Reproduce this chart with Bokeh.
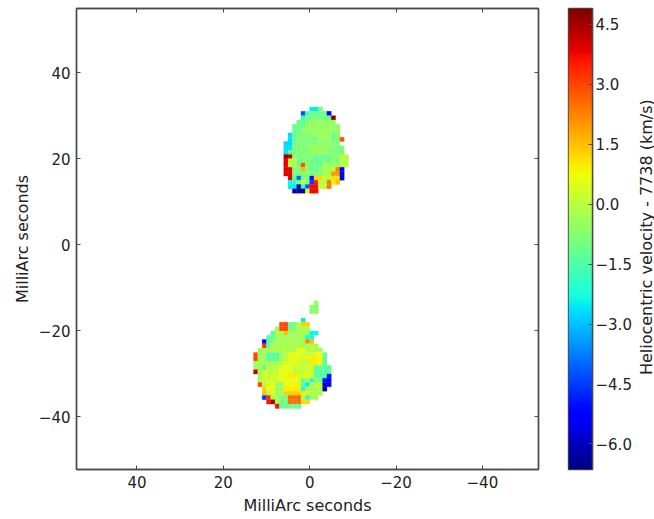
import numpy as np
from bokeh.core.properties import value
from bokeh.embed import file_html
from bokeh.resources import INLINE
from bokeh.plotting import figure
from bokeh.layouts import row
from bokeh.models import (ColumnDataSource, LinearColorMapper, FixedTicker, LinearAxis, Range1d)
from bokeh.transform import transform

# ---- data: velocity offsets (km/s), per mas cell ----
north_top_y = [32, 31, 30, 29, 28, 27, 26, 25, 24, 23, 22, 21, 20, 19, 18, 17, 16, 15, 14, 13]
north_left_x = [0, 2, 2, 3, 4, 4, 5, 5, 6, 6, 6, 6, 6, 6, 6, 6, 5, 5, 5, 4]
north_values = [
    [-2.5, -2.5, -1.0],
    [-4.3, -1.7, -1.1, -1.1, -1.1, -1.1, -5.3],
    [-2.0, -1.0, -1.0, -1.0, -1.0, -1.0, -1.0, 4.9],
    [-1.1, -1.1, -0.9, -0.5, -0.5, -0.5, -0.5, -0.5, -0.5],
    [-1.1, -1.1, -1.1, -0.5, -0.5, -0.5, -0.5, -0.5, -0.5, -0.5, -0.5],
    [-1.1, -1.1, -0.5, -0.5, -0.5, -0.5, -0.5, -0.5, -0.5, -0.5, -0.5],
    [-2.7, -1.2, -0.8, -0.8, -0.8, -0.5, -0.5, -0.5, -0.4, -0.4, -1.1, -0.8],
    [-2.7, -1.1, -0.8, -0.8, -1.0, -1.0, -1.0, -0.5, -0.5, -0.4, -1.1, -0.9, 2.8],
    [-2.8, -2.8, -1.1, -0.8, -0.8, -0.8, -0.7, -0.7, -0.7, -0.7, -0.7, -0.7, -0.7],
    [-2.6, -2.6, -1.0, -0.8, -0.8, -0.8, -0.5, -0.5, -0.5, -0.5, -0.5, -0.9, -0.9, -0.9],
    [-2.6, -1.2, -0.8, -0.8, -0.8, -0.8, -0.5, -0.5, -0.5, -0.5, -0.5, -0.9, -0.9, -0.9],
    [4.6, 4.3, -0.7, -1.0, -0.8, -0.8, -0.8, -1.1, -1.1, -1.1, -1.1, -0.8, -0.8, -0.1, -0.1],
    [3.9, -0.1, -0.1, -1.0, -0.8, -0.8, -1.1, -1.1, -1.1, -1.1, -1.1, -0.8, -0.8, -0.1, -0.1],
    [3.9, -0.1, -0.1, -1.0, 2.8, -0.8, -1.1, -1.1, -1.1, -0.3, -0.3, -0.4, -0.5, -0.1, -0.1],
    [3.9, 3.9, -0.9, -0.9, 1.6, -0.7, -1.1, -1.1, -0.8, -0.3, -0.3, -0.1, 2.2, -5.5],
    [3.9, 3.9, -0.9, -0.9, -0.9, -0.6, -1.0, -0.8, -0.8, -0.3, -0.3, 2.0, 2.0, -5.5],
    [3.9, -1.1, -4.0, -1.0, -0.7, -5.0, 1.2, 1.2, -0.1, -0.1, 1.1, 1.1, -5.5],
    [-2.4, -2.2, -1.0, 0.2, -0.8, -4.5, 3.5, 0.0, 0.0, 2.4, 0.9, 1.5],
    [-2.5, -2.5, -6.2, -2.0, -4.2, 3.7, 3.7, 0.1, 0.1, 2.4],
    [-6.2, -6.2, -6.2, 0.4, 3.7, 3.7],
]

south_top_y = [-13, -14, -15, -17, -18, -19, -20, -21, -22, -23, -24, -25, -26, -27, -28, -29,
               -30, -31, -32, -33, -34, -35, -36, -37]
south_left_x = [-1, 0, 0, 2, 7, 8, 9, 10, 11, 11, 12, 13, 13, 13, 13, 13,
                12, 12, 12, 11, 11, 11, 10, 8]
south_values = [
    [-0.4],
    [-0.6, -0.6],
    [-0.6, -0.6],
    [-2.5],
    [3.0, 3.0, -1.1, -1.1, -0.1, 1.3, 1.3],
    [-0.2, 3.0, 3.0, -1.0, -1.0, -0.2, -0.2, -0.2],
    [-1.3, -0.3, -0.3, 1.5, -0.3, -0.3, -0.3, -0.3, -0.3, -2.4, -2.4],
    [-1.3, -1.3, -0.3, -0.3, -0.3, -0.3, -0.3, -0.3, -0.3, -2.3, -2.3],
    [-5.2, -1.3, -0.7, -0.3, -0.3, -0.3, -0.3, -0.3, -0.3, -0.3, 2.2, 1.5],
    [3.2, -1.3, -0.2, -0.2, -0.2, -0.2, -0.2, -0.2, -0.2, -0.3, -0.2, -0.2, -0.2],
    [-0.4, -0.4, -0.2, -0.2, -0.2, -0.2, -0.2, -0.2, -0.2, 0.7, 0.7, -0.1, -0.1, -0.1, -0.2],
    [3.0, -0.4, -0.4, -1.4, -1.4, -1.4, -0.4, -0.1, 0.6, 0.6, 0.6, 0.2, 0.2, 0.2, 0.6, 0.8, -1.3],
    [3.0, -0.4, -0.4, -1.4, -1.4, -1.4, -0.4, 0.0, 0.5, 0.5, 0.5, 0.2, 0.9, 0.9, 0.9, 0.8, -1.3],
    [-0.4, -0.3, -0.3, -0.2, -0.2, -0.2, -0.2, 0.5, 0.5, 0.5, 0.5, 0.0, 0.0, 0.9, 0.9, 0.6, -1.2],
    [-0.4, -0.4, -1.2, -0.2, -0.2, -0.2, 0.6, 0.6, 0.6, 0.1, 0.1, 0.1, 0.3, 0.3, -1.4, -1.3, -1.3, -1.3],
    [4.2, -0.2, 0.2, 0.2, 0.2, 0.2, 0.7, 0.7, 0.7, 0.1, 0.1, 0.1, 0.3, 0.4, -1.3, -1.3, -1.3, -1.3],
    [-0.3, 0.2, 0.2, 0.2, 0.2, 0.6, 0.6, 1.0, 1.0, 0.4, 0.4, 0.5, 0.5, -1.4, -1.4, -1.4, -5.0],
    [-0.2, 0.2, 0.2, 0.2, 0.2, 0.6, 0.6, 0.6, 0.6, 0.6, -1.3, -0.3, -2.3, -0.5, -1.3, -5.0, -5.3],
    [3.0, -0.1, 0.6, 0.6, -0.5, -0.5, 0.8, 0.8, 0.8, 0.8, -1.4, -2.5, -0.1, -0.1, -0.1, -6.2, -5.3],
    [1.3, 0.7, 0.7, -0.5, -0.5, 0.9, 0.9, 0.9, 0.9, -2.3, -0.3, -0.3, -0.2, -0.1, -6.2],
    [1.5, -0.1, 0.6, -0.4, -0.4, 1.3, 1.3, 1.3, 1.3, 1.0, 1.0, -0.2, -0.2, -0.2],
    [-4.5, 3.3, -0.2, -0.2, -1.0, -1.0, 2.6, 2.6, 2.6, -0.2, -2.2, -0.4, -0.3],
    [3.6, 4.5, -0.2, -1.0, -1.0, 2.5, 2.5, 2.5, 1.2, 1.2],
    [3.6, -1.1, -1.1, -1.1, -1.1, -1.2],
]

x_ticks = [40, 20, 0, -20, -40]
x_labels = ["40", "20", "0", "\u221220", "\u221240"]
y_ticks = [40, 20, 0, -20, -40]
y_labels = ["40", "20", "0", "\u221220", "\u221240"]
cb_ticks = [4.5, 3.0, 1.5, 0.0, -1.5, -3.0, -4.5, -6.0]
cb_labels = ["4.5", "3.0", "1.5", "0.0", "\u22121.5", "\u22123.0", "\u22124.5", "\u22126.0"]
cb_title = "Heliocentric velocity - 7738 (km/s)"
v_low, v_high = -6.64, 4.9

FONT = "DejaVu Sans"
LINE = "#4a4a4a"
TEXT = "#222222"


def jet(n=256):
    t = np.linspace(0, 1, n)
    r = np.interp(t, [0, 0.35, 0.66, 0.89, 1], [0, 0, 1, 1, 0.5])
    g = np.interp(t, [0, 0.125, 0.375, 0.64, 0.91, 1], [0, 0, 1, 1, 0, 0])
    b = np.interp(t, [0, 0.11, 0.34, 0.65, 1], [0.5, 1, 1, 0, 0])
    return ["#%02x%02x%02x" % (int(a * 255), int(c * 255), int(d * 255)) for a, c, d in zip(r, g, b)]


mapper = LinearColorMapper(palette=jet(), low=v_low, high=v_high)

xs, ys, vs = [], [], []
for tops, lefts, rows_ in ((north_top_y, north_left_x, north_values),
                           (south_top_y, south_left_x, south_values)):
    for top, left, vals in zip(tops, lefts, rows_):
        for i, v in enumerate(vals):
            xs.append(left - i - 0.5)
            ys.append(top - 0.5)
            vs.append(v)
src = ColumnDataSource(dict(x=xs, y=ys, v=vs))

p = figure(frame_width=462, frame_height=461, x_range=Range1d(54, -53), y_range=Range1d(-52.2, 54.9),
           output_backend="svg", toolbar_location=None, min_border_left=76, min_border_top=8,
           min_border_right=23, min_border_bottom=50, tools="")
p.grid.visible = False
p.outline_line_color = LINE
p.outline_line_width = 1.4
p.background_fill_color = "white"
p.rect("x", "y", width=1, height=1, source=src, fill_color=transform("v", mapper),
       line_color=transform("v", mapper), line_width=0.3)


def style(ax, ticks, labels):
    ax.ticker = FixedTicker(ticks=ticks)
    ax.major_label_overrides = dict(zip(ticks, labels))
    ax.minor_tick_line_color = None
    ax.major_tick_in = 4
    ax.major_tick_out = 0
    ax.major_tick_line_color = LINE
    ax.axis_line_color = LINE
    ax.axis_line_width = 1.4
    ax.major_label_text_font = FONT
    ax.major_label_text_font_size = "15px"
    ax.major_label_text_color = TEXT
    ax.major_label_standoff = 6
    ax.axis_label_text_font = FONT
    ax.axis_label_text_font_size = "16px"
    ax.axis_label_text_font_style = "normal"
    ax.axis_label_text_color = TEXT


style(p.xaxis[0], x_ticks, x_labels)
style(p.yaxis[0], y_ticks, y_labels)
p.xaxis[0].axis_label = "MilliArc seconds"
p.yaxis[0].axis_label = "MilliArc seconds"
p.xaxis[0].axis_label_standoff = 5
p.yaxis[0].axis_label_standoff = 4

# tick marks on the top and right edges too
for side in ("above", "right"):
    ax = LinearAxis()
    style(ax, x_ticks, [""] * 5)
    ax.major_label_text_font_size = "0px"
    ax.major_label_standoff = 0
    p.add_layout(ax, side)

# colour bar as its own narrow figure
cb = figure(frame_width=24, frame_height=461, x_range=Range1d(0, 1), y_range=Range1d(v_low, v_high),
            y_axis_location="right", output_backend="svg", toolbar_location=None, tools="",
            min_border_left=7, min_border_top=8, min_border_right=42, min_border_bottom=50)
cb.grid.visible = False
cb.xaxis.visible = False
cb.outline_line_color = LINE
cb.outline_line_width = 1.4
cb.image(image=[np.linspace(v_low, v_high, 256).reshape(-1, 1)], x=0, y=v_low, dw=1, dh=v_high - v_low,
         color_mapper=mapper)
style(cb.yaxis[0], cb_ticks, cb_labels)
cb.yaxis[0].major_label_standoff = 3

# rotated colour-bar title, in its own narrow strip
title_fig = figure(width=20, height=519, x_range=Range1d(0, 1), y_range=Range1d(0, 1),
                   output_backend="svg", toolbar_location=None, tools="",
                   min_border_left=0, min_border_right=0, min_border_top=0, min_border_bottom=0)
title_fig.grid.visible = False
title_fig.axis.visible = False
title_fig.outline_line_color = None
title_fig.text(x=[0.6], y=[0.504], text=[cb_title], angle=float(np.pi / 2), text_align="center",
               text_baseline="middle", text_font=value(FONT), text_font_size="16px", text_color=TEXT)

layout = row(p, cb, title_fig, spacing=0)
open("out.html", "w").write(file_html(layout, INLINE))
